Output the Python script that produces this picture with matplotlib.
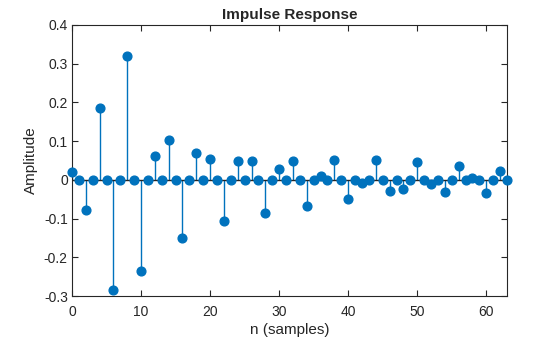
import matplotlib
matplotlib.use("Agg")
import matplotlib.pyplot as plt
import numpy as np

plt.rcParams['font.family'] = ['Liberation Sans', 'DejaVu Sans']

n = list(range(64))
h = [0.020, 0.0, -0.079, 0.0, 0.185, 0.0, -0.285, 0.0, 0.321, 0.0,
     -0.236, 0.0, 0.061, 0.0, 0.103, 0.0, -0.150, 0.0, 0.069, 0.0,
     0.055, 0.0, -0.105, 0.0, 0.049, 0.0, 0.049, 0.0, -0.085, 0.0,
     0.028, 0.0, 0.049, 0.0, -0.067, 0.0, 0.011, 0.0, 0.052, 0.0,
     -0.049, 0.0, -0.008, 0.0, 0.052, 0.0, -0.030, 0.0, -0.023, 0.0,
     0.046, 0.0, -0.010, 0.0, -0.032, 0.0, 0.036, 0.0, 0.004, 0.0,
     -0.035, 0.0, 0.024, 0.0]
xticks = [0, 10, 20, 30, 40, 50, 60]
yticks = [-0.3, -0.2, -0.1, 0, 0.1, 0.2, 0.3, 0.4]
ytick_labels = ['-0.3', '-0.2', '-0.1', '0', '0.1', '0.2', '0.3', '0.4']

color = '#0072BD'
txt = '#262626'

fig = plt.figure(figsize=(5.6, 3.37), dpi=100)
ax = fig.add_axes([72/560, 1-296/337, (507-72)/560, (296-25)/337])

ml, sl, bl = ax.stem(n, h, basefmt='k-')
plt.setp(sl, color=color, linewidth=1.0)
plt.setp(ml, color=color, markersize=6.3, markerfacecolor=color,
         markeredgecolor=color, clip_on=False, zorder=3)
plt.setp(bl, color='#262626', linewidth=1.0)

ax.set_xlim(0, 63)
ax.set_ylim(-0.3, 0.4)
ax.set_xticks(xticks)
ax.set_xticklabels([str(x) for x in xticks])
ax.set_yticks(yticks)
ax.set_yticklabels(ytick_labels)
ax.tick_params(direction='in', length=4, width=0.8, labelsize=10, colors=txt,
               top=True, right=True, labeltop=False, labelright=False)
ax.tick_params(axis='x', pad=6.5)
ax.tick_params(axis='y', pad=3)
for s in ax.spines.values():
    s.set_color(txt)
    s.set_linewidth(0.8)

ax.set_title('Impulse Response', fontsize=11, fontweight='bold', color=txt, pad=4)
ax.set_xlabel('n (samples)', fontsize=11, color=txt, labelpad=3)
ax.set_ylabel('Amplitude', fontsize=11, color=txt, labelpad=4)

fig.savefig('out.png', dpi=100)
